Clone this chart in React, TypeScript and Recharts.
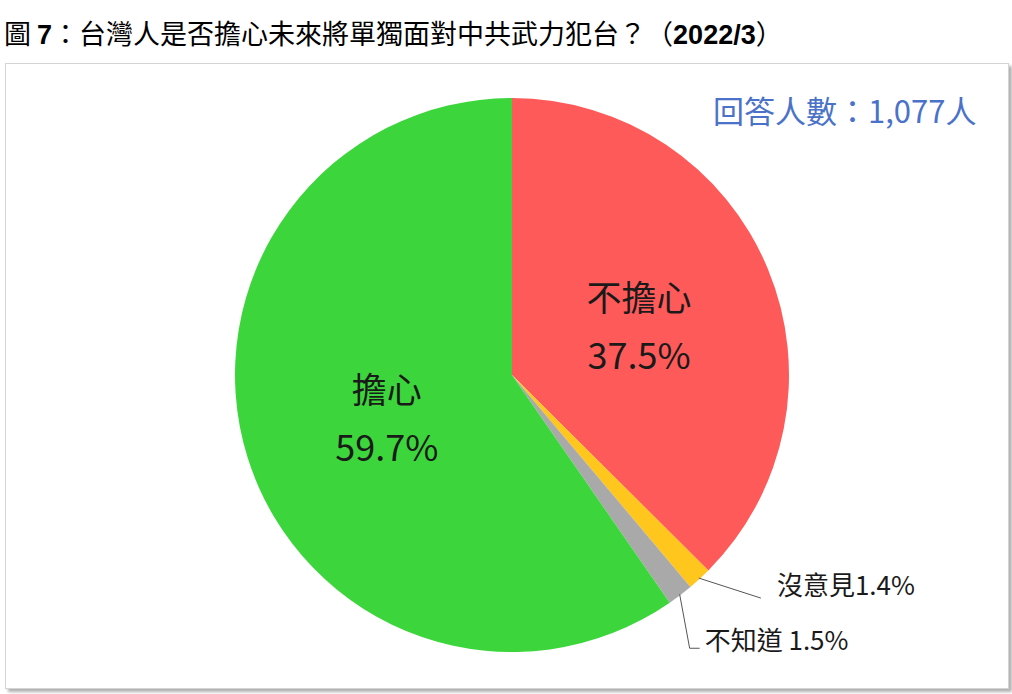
import React from 'react';
import { PieChart, Pie, Cell } from 'recharts';

const categories = ['不擔心', '沒意見', '不知道', '擔心'];
const values = [37.5, 1.4, 1.5, 59.7];
const valueLabels = ['37.5%', '1.4%', '1.5%', '59.7%'];
const colors = ['#FF5A5A', '#FFC61E', '#A9A9A9', '#3CD63C'];

const data = categories.map((name, i) => ({ name, value: values[i], label: valueLabels[i] }));

const RAD = Math.PI / 180;
const FONT = '"Noto Sans CJK TC", "Noto Sans", sans-serif';

const renderLabel = (props: any) => {
  const { cx, cy, midAngle, outerRadius, index } = props;
  const cos = Math.cos(-midAngle * RAD);
  const sin = Math.sin(-midAngle * RAD);
  const d = data[index];
  if (index === 0 || index === 3) {
    const r = outerRadius * 0.485;
    const x = cx + r * cos + 3;
    const y = cy + r * sin;
    return (
      <g key={`l${index}`}>
        <text x={x} y={y - 28} textAnchor="middle" dominantBaseline="central" fontSize={35} fill="#1a1a1a" fontFamily={FONT}>
          {d.name}
        </text>
        <text x={x} y={y + 30} textAnchor="middle" dominantBaseline="central" fontSize={36} fill="#1a1a1a" fontFamily={FONT}>
          {d.label}
        </text>
      </g>
    );
  }
  const px = cx + (outerRadius - 1) * cos;
  const py = cy + (outerRadius - 1) * sin;
  if (index === 1) {
    return (
      <g key={`l${index}`}>
        <polyline points={`${px},${py} ${px + 62},${py + 20}`} fill="none" stroke="#555" strokeWidth={1} />
        <text x={px + 78} y={py + 5} dominantBaseline="central" fontSize={26} fill="#1a1a1a" fontFamily={FONT}>
          {d.name + d.label}
        </text>
      </g>
    );
  }
  return (
    <g key={`l${index}`}>
      <polyline points={`${px},${py} ${px + 10},${py + 54} ${px + 20},${py + 54}`} fill="none" stroke="#555" strokeWidth={1} />
      <text x={px + 25} y={py + 44} dominantBaseline="central" fontSize={26} fill="#1a1a1a" fontFamily={FONT}>
        {d.name + ' ' + d.label}
      </text>
    </g>
  );
};

export default function App() {
  return (
    <div style={{ position: 'absolute', left: 0, top: 0, width: 1012, height: 694, background: '#fff', fontFamily: FONT }}>
      <div style={{ position: 'absolute', left: 4, top: 19, fontSize: 27, lineHeight: '27px', color: '#000', whiteSpace: 'nowrap' }}>
        圖 <b style={{ fontFamily: '"Liberation Sans", Arial, sans-serif' }}>7</b>：台灣人是否擔心未來將單獨面對中共武力犯台？（<b style={{ fontFamily: '"Liberation Sans", Arial, sans-serif' }}>2022/3</b>）
      </div>
      <div
        style={{
          position: 'absolute',
          left: 5,
          top: 63,
          width: 1002,
          height: 624,
          border: '1px solid #d4d4d4',
          boxShadow: '3px 3px 3px #b0b0b0',
          background: '#fff',
        }}
      />
      <div style={{ position: 'absolute', left: 713, top: 94, fontSize: 31, lineHeight: '31px', color: '#4A72C8', whiteSpace: 'nowrap' }}>
        回答人數：1,077人
      </div>
      <div style={{ position: 'absolute', left: 0, top: 0 }}>
        <PieChart width={1012} height={694} margin={{ top: 0, right: 0, bottom: 0, left: 0 }}>
          <Pie
            data={data}
            dataKey="value"
            nameKey="name"
            cx={512}
            cy={375}
            outerRadius={277}
            startAngle={90}
            endAngle={-270}
            stroke="none"
            label={renderLabel}
            labelLine={false}
            isAnimationActive={false}
          >
            {data.map((d, i) => (
              <Cell key={d.name} fill={colors[i]} />
            ))}
          </Pie>
        </PieChart>
      </div>
    </div>
  );
}
